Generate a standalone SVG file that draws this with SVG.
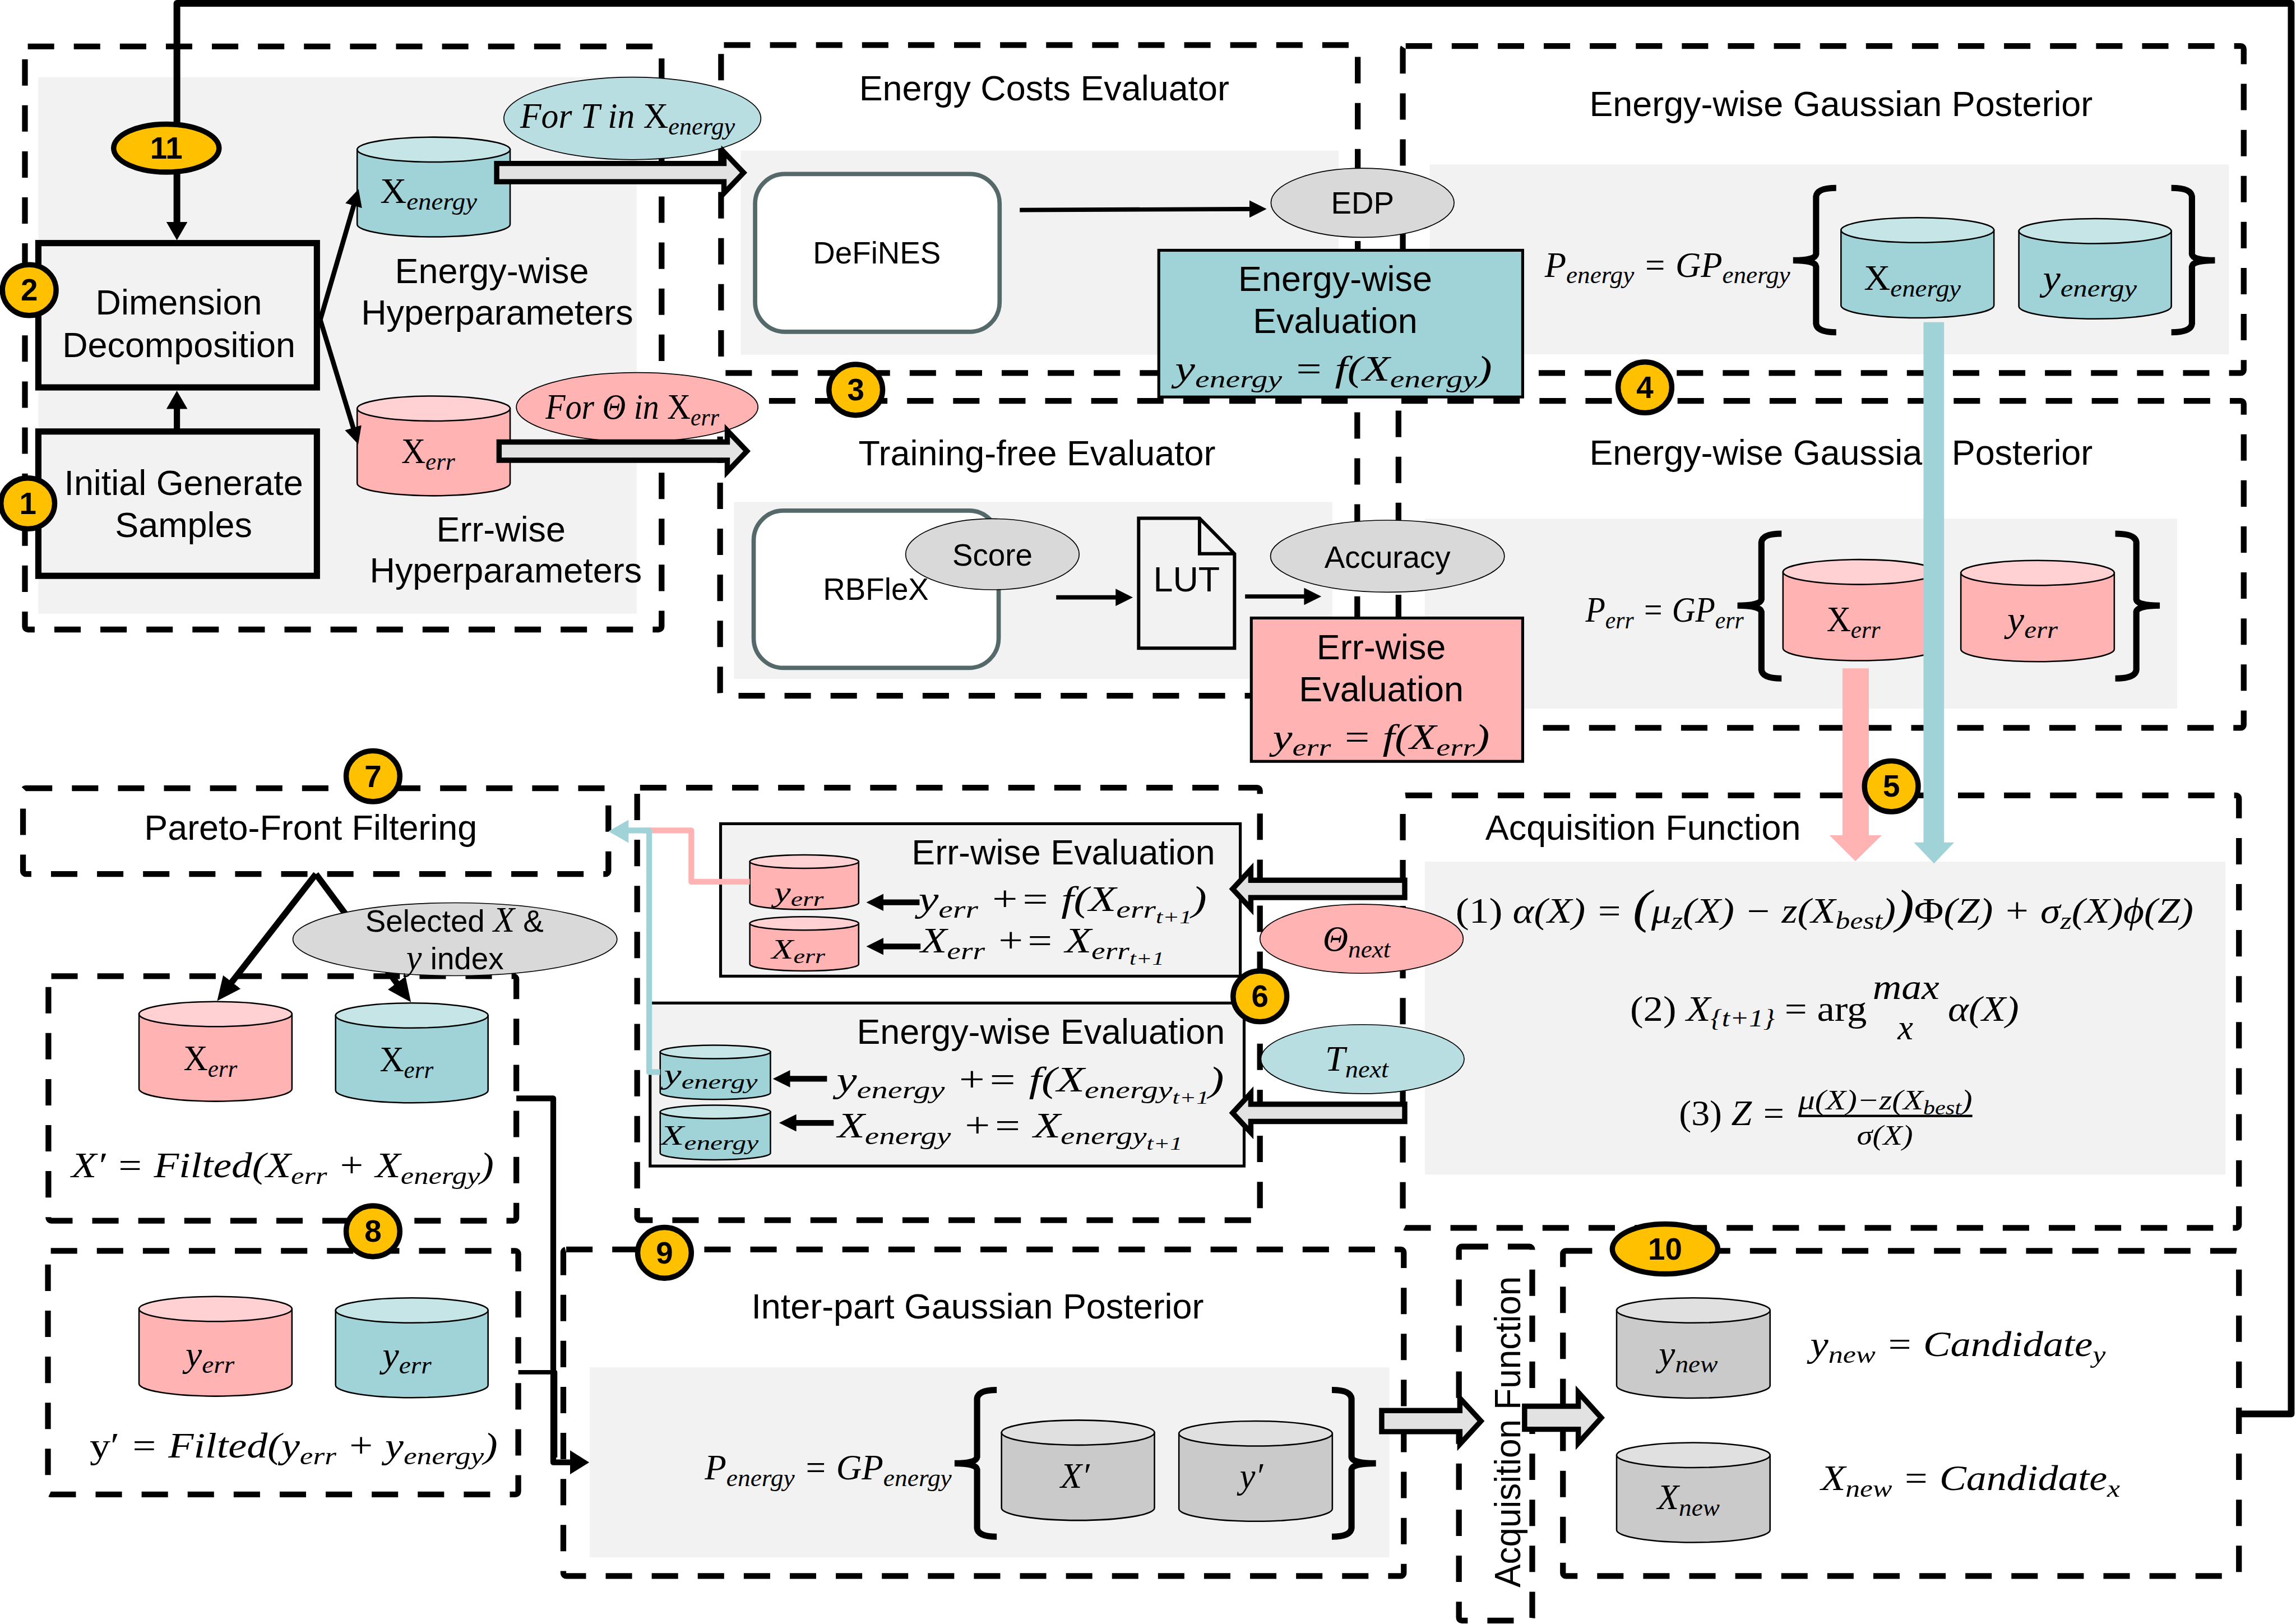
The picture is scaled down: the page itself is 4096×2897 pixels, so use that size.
<svg xmlns="http://www.w3.org/2000/svg" width="4096" height="2897" viewBox="0 0 4096 2897">
<defs>
<style>
text{font-family:"Liberation Sans",Arial,sans-serif;fill:#000}
.t{font-size:73.500px;text-anchor:middle}
.n{font-size:64px;text-anchor:middle}
.b{font-size:64px;font-weight:bold;text-anchor:middle}
.m{font-family:"Liberation Serif","DejaVu Serif",serif;font-style:italic;font-size:73px}
.ms{font-family:"Liberation Serif","DejaVu Serif",serif;font-style:italic;font-size:58px}
.u{font-style:normal}
.s{font-size:.72em}
.ss{font-size:.55em}
.dash{fill:none;stroke:#000;stroke-width:12;stroke-dasharray:55 41;stroke-linejoin:round}
.bg{fill:#f2f2f2}
.badge{fill:#ffc000;stroke:#000;stroke-width:11}
.cb{stroke:#000;stroke-width:3}
.tb{fill:#a0d3d8}.tt{fill:#c6e5e7}
.pb{fill:#ffb3b3}.pt{fill:#ffd1d3}
.gb{fill:#cacaca}.gt{fill:#e0e0e0}
.oval{stroke:#000;stroke-width:2}
.soft{fill:#fff;stroke:#56696a;stroke-width:9}
.box{fill:#f2f2f2;stroke:#000;stroke-width:13}
.ev{fill:#f2f2f2;stroke:#000;stroke-width:6}
.br{fill:none;stroke:#000;stroke-width:13;stroke-linecap:butt}
.ln{fill:none;stroke:#000;stroke-linejoin:round}
.ba{fill:#e2e2e2;stroke:#000;stroke-width:11}
</style>
<marker id="h1" markerUnits="userSpaceOnUse" markerWidth="40" markerHeight="44" refX="1" refY="22" orient="auto"><path d="M0 0L38 22L0 44z"/></marker>
<marker id="h2" markerUnits="userSpaceOnUse" markerWidth="38" markerHeight="36" refX="1" refY="18" orient="auto"><path d="M0 0L36 18L0 36z"/></marker>
<marker id="h3" markerUnits="userSpaceOnUse" markerWidth="52" markerHeight="46" refX="1" refY="23" orient="auto"><path d="M0 0L50 23L0 46z"/></marker>
<marker id="h4" markerUnits="userSpaceOnUse" markerWidth="42" markerHeight="50" refX="1" refY="25" orient="auto"><path d="M0 0L40 25L0 50z"/></marker>
</defs>
<g transform="scale(0.85529)">

<g id="containers">
<rect class="bg" x="80" y="161" width="1248" height="1119"/>
<rect class="dash" x="52" y="97" width="1328" height="1216" rx="6"/>
<rect class="bg" x="1545" y="314" width="1247" height="426"/>
<rect class="dash" x="1504" y="94" width="1328" height="684" rx="6"/>
<text class="t" x="2178" y="209">Energy Costs Evaluator</text>
<rect class="bg" x="1531" y="1047" width="1248" height="369"/>
<rect class="dash" x="1502" y="836" width="1329" height="615" rx="6"/>
<text class="t" x="2163" y="970">Training-free Evaluator</text>
<rect class="bg" x="2982" y="343" width="1667" height="396"/>
<rect class="dash" x="2926" y="96" width="1754" height="682" rx="6"/>
<text class="t" x="3840" y="242">Energy-wise Gaussian Posterior</text>
<rect class="bg" x="2972" y="1082" width="1569" height="396"/>
<rect class="dash" x="2917" y="836" width="1763" height="682" rx="6"/>
<text class="t" x="3840" y="969">Energy-wise Gaussian Posterior</text>
<rect class="bg" x="2972" y="1797" width="1670" height="653"/>
<rect class="dash" x="2926" y="1659" width="1744" height="902" rx="6"/>
<text class="t" x="3427" y="1752">Acquisition Function</text>
<rect class="dash" x="48" y="1644" width="1221" height="179" rx="6"/>
<text class="t" x="648" y="1752">Pareto-Front Filtering</text>
<rect class="dash" x="1329" y="1643" width="1299" height="902" rx="6"/>
<rect class="dash" x="101" y="2036" width="976" height="510" rx="6"/>
<rect class="dash" x="100" y="2609" width="981" height="508" rx="6"/>
<rect class="bg" x="1230" y="2852" width="1668" height="396"/>
<rect class="dash" x="1175" y="2606" width="1753" height="681" rx="6"/>
<text class="t" x="2039" y="2750">Inter-part Gaussian Posterior</text>
<rect class="dash" x="3043" y="2600" width="153" height="780" rx="6"/>
<rect class="dash" x="3260" y="2609" width="1410" height="678" rx="6"/>
<text class="t" transform="translate(3171 3311) rotate(-90)" style="text-anchor:start;font-size:76px" textLength="649" lengthAdjust="spacingAndGlyphs">Acquisition Function</text>
</g>

<g id="node-dimension"><rect class="box" x="80" y="507" width="581" height="301"/><text class="t" x="373" y="656">Dimension</text><text class="t" x="373" y="745">Decomposition</text></g>
<g id="node-initial"><rect class="box" x="80" y="900" width="581" height="301"/><text class="t" x="383" y="1032">Initial Generate</text><text class="t" x="383" y="1120">Samples</text></g>

<g id="node-xenergy"><path class="cb tb" d="M745 312V468A159.500 26 0 0 0 1064 468V312Z"/><ellipse class="cb tt" cx="904.500" cy="312" rx="159.500" ry="26"/><text class="m" x="793" y="423" textLength="202" lengthAdjust="spacingAndGlyphs"><tspan class="u">X</tspan><tspan class="s" dy="14">energy</tspan></text></g>
<text class="t" x="1026" y="590">Energy-wise</text><text class="t" x="1037" y="677">Hyperparameters</text>
<g id="node-xerr"><path class="cb pb" d="M745 852V1008A159.500 26 0 0 0 1064 1008V852Z"/><ellipse class="cb pt" cx="904.500" cy="852" rx="159.500" ry="26"/><text class="m" x="837" y="966" textLength="112" lengthAdjust="spacingAndGlyphs"><tspan class="u">X</tspan><tspan class="s" dy="14">err</tspan></text></g>
<text class="t" x="1045" y="1130">Err-wise</text><text class="t" x="1055" y="1215">Hyperparameters</text>
<g id="label-for-t"><ellipse class="oval" fill="#b8dee1" cx="1319" cy="247" rx="268" ry="86"/><text class="m" x="1085" y="267" textLength="448" lengthAdjust="spacingAndGlyphs">For T in <tspan class="u">X</tspan><tspan class="s" dy="14">energy</tspan></text></g>
<g id="label-for-theta"><ellipse class="oval" fill="#ffb3b3" cx="1329" cy="849" rx="252" ry="72"/><text class="m" x="1138" y="873" textLength="362" lengthAdjust="spacingAndGlyphs">For Θ in <tspan class="u">X</tspan><tspan class="s" dy="14">err</tspan></text></g>

<g id="node-defines"><rect class="soft" x="1575" y="363" width="510" height="329" rx="62"/><text class="n" x="1829" y="550">DeFiNES</text></g>
<g id="node-rbflex"><rect class="soft" x="1572" y="1065" width="511" height="328" rx="62"/><text class="n" x="1827" y="1251">RBFleX</text></g>
<g id="node-lut"><path fill="#f2f2f2" stroke="#000" stroke-width="7" d="M2375 1081H2502L2575 1155V1352H2375ZM2502 1081V1155H2575"/><text class="t" x="2475" y="1234">LUT</text></g>

<g id="node-gp-energy">
<text class="m" x="3222" y="577" textLength="512" lengthAdjust="spacingAndGlyphs">P<tspan class="s" dy="14">energy</tspan><tspan dy="-14"> = GP</tspan><tspan class="s" dy="14">energy</tspan></text>
<path class="br" d="M3830 392Q3790 392 3788 410V530Q3786 543 3740 543Q3786 543 3788 556V675Q3790 693 3830 693"/>
<path class="br" d="M4529 392Q4570 392 4572 410V530Q4574 543 4620 543Q4574 543 4572 556V675Q4570 693 4529 693"/>
<path class="cb tb" d="M3840 480V637A159.500 26 0 0 0 4159 637V480Z"/><ellipse class="cb tt" cx="3999.500" cy="480" rx="159.500" ry="26"/>
<text class="m" x="3888" y="605" textLength="202" lengthAdjust="spacingAndGlyphs"><tspan class="u">X</tspan><tspan class="s" dy="14">energy</tspan></text>
<path class="cb tb" d="M4211 482V639A159 26 0 0 0 4529 639V482Z"/><ellipse class="cb tt" cx="4370" cy="482" rx="159" ry="26"/>
<text class="m" x="4261" y="605" textLength="196" lengthAdjust="spacingAndGlyphs">y<tspan class="s" dy="14">energy</tspan></text>
</g>
<g id="node-gp-err">
<text class="m" x="3307" y="1297" textLength="330" lengthAdjust="spacingAndGlyphs">P<tspan class="s" dy="14">err</tspan><tspan dy="-14"> = GP</tspan><tspan class="s" dy="14">err</tspan></text>
<path class="br" d="M3716 1113Q3676 1113 3674 1131V1250Q3672 1263 3624 1263Q3672 1263 3674 1276V1397Q3676 1415 3716 1415"/>
<path class="br" d="M4412 1113Q4454 1113 4456 1131V1250Q4458 1263 4505 1263Q4458 1263 4456 1276V1397Q4454 1415 4412 1415"/>
<path class="cb pb" d="M3719 1193V1352A160 26 0 0 0 4039 1352V1193Z"/><ellipse class="cb pt" cx="3879" cy="1193" rx="160" ry="26"/>
<text class="m" x="3810" y="1316" textLength="112" lengthAdjust="spacingAndGlyphs"><tspan class="u">X</tspan><tspan class="s" dy="14">err</tspan></text>
<path class="cb pb" d="M4090 1195V1354A160 26 0 0 0 4410 1354V1195Z"/><ellipse class="cb pt" cx="4250" cy="1195" rx="160" ry="26"/>
<text class="m" x="4187" y="1316" textLength="105" lengthAdjust="spacingAndGlyphs">y<tspan class="s" dy="14">err</tspan></text>
</g>

<g id="node-eval-err-box">
<rect class="ev" x="1503" y="1718" width="1084" height="318"/>
<text class="t" x="2218" y="1803">Err-wise Evaluation</text>
<path class="cb pb" d="M1564 1797V1883A113.500 14 0 0 0 1791 1883V1797Z"/><ellipse class="cb pt" cx="1677.500" cy="1797" rx="113.500" ry="14"/>
<text class="ms" x="1615" y="1880" textLength="103" lengthAdjust="spacingAndGlyphs">y<tspan class="s" dy="10">err</tspan></text>
<path class="cb pb" d="M1564 1926V2011A113.500 14 0 0 0 1791 2011V1926Z"/><ellipse class="cb pt" cx="1677.500" cy="1926" rx="113.500" ry="14"/>
<text class="ms" x="1609" y="1999" textLength="112" lengthAdjust="spacingAndGlyphs">X<tspan class="s" dy="10">err</tspan></text>
<text class="m" x="1916" y="1900" textLength="601" lengthAdjust="spacingAndGlyphs">y<tspan class="s" dy="14">err</tspan><tspan dy="-14"> += f(X</tspan><tspan class="s" dy="14">err</tspan><tspan class="ss" dy="12">t+1</tspan><tspan dy="-26">)</tspan></text>
<text class="m" x="1920" y="1986" textLength="508" lengthAdjust="spacingAndGlyphs">X<tspan class="s" dy="14">err</tspan><tspan dy="-14"> += X</tspan><tspan class="s" dy="14">err</tspan><tspan class="ss" dy="12">t+1</tspan></text>
</g>
<g id="node-eval-energy-box">
<rect class="ev" x="1356" y="2092" width="1239" height="340"/>
<text class="t" x="2171" y="2177">Energy-wise Evaluation</text>
<path class="cb tb" d="M1377 2194V2279A115 14 0 0 0 1607 2279V2194Z"/><ellipse class="cb tt" cx="1492" cy="2194" rx="115" ry="14"/>
<text class="ms" x="1385" y="2260" textLength="195" lengthAdjust="spacingAndGlyphs">y<tspan class="s" dy="10">energy</tspan></text>
<path class="cb tb" d="M1377 2319V2405A115 14 0 0 0 1607 2405V2319Z"/><ellipse class="cb tt" cx="1492" cy="2319" rx="115" ry="14"/>
<text class="ms" x="1378" y="2388" textLength="204" lengthAdjust="spacingAndGlyphs">X<tspan class="s" dy="10">energy</tspan></text>
<text class="m" x="1745" y="2276" textLength="808" lengthAdjust="spacingAndGlyphs">y<tspan class="s" dy="14">energy</tspan><tspan dy="-14"> += f(X</tspan><tspan class="s" dy="14">energy</tspan><tspan class="ss" dy="12">t+1</tspan><tspan dy="-26">)</tspan></text>
<text class="m" x="1747" y="2372" textLength="719" lengthAdjust="spacingAndGlyphs">X<tspan class="s" dy="14">energy</tspan><tspan dy="-14"> += X</tspan><tspan class="s" dy="14">energy</tspan><tspan class="ss" dy="12">t+1</tspan></text>
</g>

<g id="node-acq-formulas">
<text class="m" x="3036" y="1925" textLength="1539" lengthAdjust="spacingAndGlyphs"><tspan class="u">(1) </tspan>α(X) = <tspan font-size="100">(</tspan>μ<tspan class="s" dy="12">z</tspan><tspan dy="-12">(X) − z(X</tspan><tspan class="s" dy="12">best</tspan><tspan dy="-12">)</tspan><tspan font-size="100">)</tspan><tspan class="u">Φ</tspan>(Z) + σ<tspan class="s" dy="12">z</tspan><tspan dy="-12">(X)ϕ(Z)</tspan></text>
<text class="m" x="3400" y="2129" textLength="494" lengthAdjust="spacingAndGlyphs"><tspan class="u">(2) </tspan>X<tspan class="s" dy="12">{t+1}</tspan><tspan dy="-12" class="u"> = arg</tspan></text>
<text class="m" x="3906" y="2083" textLength="139" lengthAdjust="spacingAndGlyphs">max</text>
<text class="m" x="3958" y="2168">x</text>
<text class="m" x="4063" y="2129" textLength="148" lengthAdjust="spacingAndGlyphs">α(X)</text>
<text class="m" x="3502" y="2347" textLength="223" lengthAdjust="spacingAndGlyphs"><tspan class="u">(3) </tspan>Z =</text>
<text class="ms" x="3751" y="2314" textLength="363" lengthAdjust="spacingAndGlyphs">μ(X)−z(X<tspan class="s" dy="10">best</tspan><tspan dy="-10">)</tspan></text>
<rect x="3751" y="2325" width="363" height="5"/>
<text class="ms" x="3873" y="2388" textLength="117" lengthAdjust="spacingAndGlyphs">σ(X)</text>
</g>

<g id="node-filtered-x">
<path class="cb pb" d="M290 2115V2271A159.500 26 0 0 0 609 2271V2115Z"/><ellipse class="cb pt" cx="449.500" cy="2115" rx="159.500" ry="26"/>
<text class="m" x="383" y="2232" textLength="112" lengthAdjust="spacingAndGlyphs"><tspan class="u">X</tspan><tspan class="s" dy="14">err</tspan></text>
<path class="cb tb" d="M700 2118V2274A159 26 0 0 0 1018 2274V2118Z"/><ellipse class="cb tt" cx="859" cy="2118" rx="159" ry="26"/>
<text class="m" x="792" y="2234" textLength="112" lengthAdjust="spacingAndGlyphs"><tspan class="u">X</tspan><tspan class="s" dy="14">err</tspan></text>
<text class="m" x="149" y="2455" textLength="881" lengthAdjust="spacingAndGlyphs">X′ = Filted(X<tspan class="s" dy="14">err</tspan><tspan dy="-14"> + X</tspan><tspan class="s" dy="14">energy</tspan><tspan dy="-14">)</tspan></text>
</g>
<g id="node-filtered-y">
<path class="cb pb" d="M290 2730V2886A159.500 26 0 0 0 609 2886V2730Z"/><ellipse class="cb pt" cx="449.500" cy="2730" rx="159.500" ry="26"/>
<text class="m" x="387" y="2849" textLength="102" lengthAdjust="spacingAndGlyphs">y<tspan class="s" dy="14">err</tspan></text>
<path class="cb tb" d="M700 2733V2889A159 26 0 0 0 1018 2889V2733Z"/><ellipse class="cb tt" cx="859" cy="2733" rx="159" ry="26"/>
<text class="m" x="798" y="2851" textLength="102" lengthAdjust="spacingAndGlyphs">y<tspan class="s" dy="14">err</tspan></text>
<text class="m" x="187" y="3040" textLength="851" lengthAdjust="spacingAndGlyphs"><tspan class="u">y′</tspan> = Filted(y<tspan class="s" dy="14">err</tspan><tspan dy="-14"> + y</tspan><tspan class="s" dy="14">energy</tspan><tspan dy="-14">)</tspan></text>
</g>
<g id="node-gp-inter">
<text class="m" x="1470" y="3085" textLength="515" lengthAdjust="spacingAndGlyphs">P<tspan class="s" dy="14">energy</tspan><tspan dy="-14"> = GP</tspan><tspan class="s" dy="14">energy</tspan></text>
<path class="br" d="M2079 2899Q2040 2899 2038 2917V3039Q2036 3052 1991 3052Q2036 3052 2038 3065V3187Q2040 3205 2079 3205"/>
<path class="br" d="M2778 2899Q2817 2899 2819 2917V3039Q2821 3052 2870 3052Q2821 3052 2819 3065V3187Q2817 3205 2778 3205"/>
<path class="cb gb" d="M2089 2988V3145A159.500 26 0 0 0 2408 3145V2988Z"/><ellipse class="cb gt" cx="2248.500" cy="2988" rx="159.500" ry="26"/>
<text class="m" x="2212" y="3103">X′</text>
<path class="cb gb" d="M2459 2990V3147A160 26 0 0 0 2779 3147V2990Z"/><ellipse class="cb gt" cx="2619" cy="2990" rx="160" ry="26"/>
<text class="m" x="2586" y="3103">y′</text>
</g>
<g id="node-new">
<path class="cb gb" d="M3372 2733V2890A160 26 0 0 0 3692 2890V2733Z"/><ellipse class="cb gt" cx="3532" cy="2733" rx="160" ry="26"/>
<text class="m" x="3460" y="2848" textLength="123" lengthAdjust="spacingAndGlyphs">y<tspan class="s" dy="14">new</tspan></text>
<text class="m" x="3776" y="2828" textLength="616" lengthAdjust="spacingAndGlyphs">y<tspan class="s" dy="14">new</tspan><tspan dy="-14"> = Candidate</tspan><tspan class="s" dy="14">y</tspan></text>
<path class="cb gb" d="M3372 3035V3191A160 26 0 0 0 3692 3191V3035Z"/><ellipse class="cb gt" cx="3532" cy="3035" rx="160" ry="26"/>
<text class="m" x="3457" y="3147" textLength="130" lengthAdjust="spacingAndGlyphs">X<tspan class="s" dy="14">new</tspan></text>
<text class="m" x="3798" y="3108" textLength="624" lengthAdjust="spacingAndGlyphs">X<tspan class="s" dy="14">new</tspan><tspan dy="-14"> = Candidate</tspan><tspan class="s" dy="14">x</tspan></text>
</g>

<g id="connectors">
<path class="ln" stroke-width="14" marker-end="url(#h1)" d="M4670 2949H4779V7H369V464"/>
<path class="ln" stroke-width="13" marker-end="url(#h1)" d="M369 900V852"/>
<path class="ln" stroke-width="10" marker-end="url(#h2)" d="M668 667L738 428"/>
<path class="ln" stroke-width="10" marker-end="url(#h2)" d="M668 667L737 893"/>
<path class="ln" stroke-width="9" marker-end="url(#h2)" d="M2127 438L2607 436"/>
<path class="ln" stroke-width="9" marker-end="url(#h2)" d="M2203 1246H2328"/>
<path class="ln" stroke-width="9" marker-end="url(#h2)" d="M2597 1244H2721"/>
<path class="ln" stroke-width="12" marker-end="url(#h2)" d="M1918 1882H1842"/>
<path class="ln" stroke-width="12" marker-end="url(#h2)" d="M1920 1974H1842"/>
<path class="ln" stroke-width="12" marker-end="url(#h2)" d="M1725 2250H1647"/>
<path class="ln" stroke-width="12" marker-end="url(#h2)" d="M1739 2342H1660"/>
<path class="ln" stroke-width="13" marker-end="url(#h3)" d="M659 1823L483 2049"/>
<path class="ln" stroke-width="13" marker-end="url(#h3)" d="M659 1823L828 2051"/>
<path class="ln" stroke-width="12" marker-end="url(#h4)" d="M1077 2291H1154V3050H1190"/>
<path class="ln" stroke-width="9" d="M1081 2862H1158V3040"/>
<path fill="none" stroke="#ffb3b3" stroke-width="12" stroke-linejoin="round" d="M1564 1839H1442V1732H1340"/>
<path fill="none" stroke="#a0d3d8" stroke-width="12" stroke-linejoin="round" d="M1377 2236H1354V1732H1310"/>
<polygon fill="#a0d3d8" points="1269,1734 1311,1710 1311,1758"/>
<polygon fill="#ffb3b3" points="3843,1394 3898,1394 3898,1742 3925,1742 3870,1796 3816,1742 3843,1742"/>
<polygon fill="#a0d3d8" points="4012,672 4055,672 4055,1757 4076,1757 4034,1801 3992,1757 4012,1757"/>
<polygon class="ba" points="1036,341 1510,341 1510,317 1551,360 1510,403 1510,379 1036,379"/>
<polygon class="ba" points="1041,922 1517,922 1517,898 1558,941 1517,984 1517,960 1041,960"/>
<polygon class="ba" points="2930,1836 2609,1836 2609,1813 2571,1854 2609,1895 2609,1872 2930,1872"/>
<polygon class="ba" points="2930,2303 2609,2303 2609,2280 2571,2321 2609,2362 2609,2339 2930,2339"/>
<polygon class="ba" points="2882,2942 3045,2942 3045,2916 3089,2964 3045,3012 3045,2986 2882,2986"/>
<polygon class="ba" points="3180,2933 3292,2933 3292,2904 3340,2957 3292,3010 3292,2981 3180,2981"/>
</g>

<g id="node-edp"><ellipse class="oval" fill="#d9d9d9" cx="2842" cy="423" rx="191" ry="72"/><text class="n" x="2842" y="446">EDP</text></g>
<g id="node-score"><ellipse class="oval" fill="#d9d9d9" cx="2070" cy="1156" rx="181" ry="74"/><text class="n" x="2070" y="1180">Score</text></g>
<g id="node-accuracy"><ellipse class="oval" fill="#d9d9d9" cx="2894" cy="1160" rx="244" ry="75"/><text class="n" x="2894" y="1184">Accuracy</text></g>
<g id="node-eval-energy"><rect fill="#a0d3d8" stroke="#000" stroke-width="6" x="2417" y="522" width="759" height="306"/><text class="t" x="2785" y="607">Energy-wise</text><text class="t" x="2785" y="695">Evaluation</text><text class="m" x="2451" y="794" textLength="661" lengthAdjust="spacingAndGlyphs">y<tspan class="s" dy="14">energy</tspan><tspan dy="-14"> = f(X</tspan><tspan class="s" dy="14">energy</tspan><tspan dy="-14">)</tspan></text></g>
<g id="node-eval-err"><rect fill="#ffb3b3" stroke="#000" stroke-width="6" x="2610" y="1289" width="566" height="299"/><text class="t" x="2881" y="1375">Err-wise</text><text class="t" x="2881" y="1463">Evaluation</text><text class="m" x="2655" y="1562" textLength="452" lengthAdjust="spacingAndGlyphs">y<tspan class="s" dy="14">err</tspan><tspan dy="-14"> = f(X</tspan><tspan class="s" dy="14">err</tspan><tspan dy="-14">)</tspan></text></g>
<g id="label-theta-next"><ellipse class="oval" fill="#ffb3b3" cx="2840" cy="1958" rx="212" ry="72"/><text class="m" x="2759" y="1983" textLength="141" lengthAdjust="spacingAndGlyphs">Θ<tspan class="s" dy="14">next</tspan></text></g>
<g id="label-t-next"><ellipse class="oval" fill="#b8dee1" cx="2842" cy="2209" rx="212" ry="72"/><text class="m" x="2764" y="2233" textLength="132" lengthAdjust="spacingAndGlyphs">T<tspan class="s" dy="14">next</tspan></text></g>
<g id="node-selected"><ellipse class="oval" fill="#d9d9d9" cx="949" cy="1959" rx="338" ry="76"/><text class="n" x="948" y="1943">Selected <tspan class="m" font-size="64">X</tspan> &amp;</text><text class="n" x="949" y="2022"><tspan class="m" font-size="64">y</tspan> index</text></g>

<g id="badge-1"><ellipse class="badge" cx="58" cy="1050" rx="56" ry="53"/><text class="b" x="58" y="1072">1</text></g>
<g id="badge-2"><ellipse class="badge" cx="61" cy="605" rx="56" ry="53"/><text class="b" x="61" y="627">2</text></g>
<g id="badge-3"><ellipse class="badge" cx="1785" cy="813" rx="56" ry="53"/><text class="b" x="1785" y="835">3</text></g>
<g id="badge-4"><ellipse class="badge" cx="3431" cy="808" rx="56" ry="53"/><text class="b" x="3431" y="830">4</text></g>
<g id="badge-5"><ellipse class="badge" cx="3945" cy="1640" rx="56" ry="53"/><text class="b" x="3945" y="1662">5</text></g>
<g id="badge-6"><ellipse class="badge" cx="2628" cy="2078" rx="56" ry="53"/><text class="b" x="2628" y="2100">6</text></g>
<g id="badge-7"><ellipse class="badge" cx="778" cy="1619" rx="56" ry="53"/><text class="b" x="778" y="1641">7</text></g>
<g id="badge-8"><ellipse class="badge" cx="778" cy="2568" rx="56" ry="53"/><text class="b" x="778" y="2590">8</text></g>
<g id="badge-9"><ellipse class="badge" cx="1386" cy="2613" rx="56" ry="53"/><text class="b" x="1386" y="2635">9</text></g>
<g id="badge-10"><ellipse class="badge" cx="3473" cy="2605" rx="110" ry="52"/><text class="b" x="3473" y="2627">10</text></g>
<g id="badge-11"><ellipse class="badge" cx="347" cy="309" rx="110" ry="50"/><text class="b" x="347" y="331">11</text></g>
</g>
</svg>
